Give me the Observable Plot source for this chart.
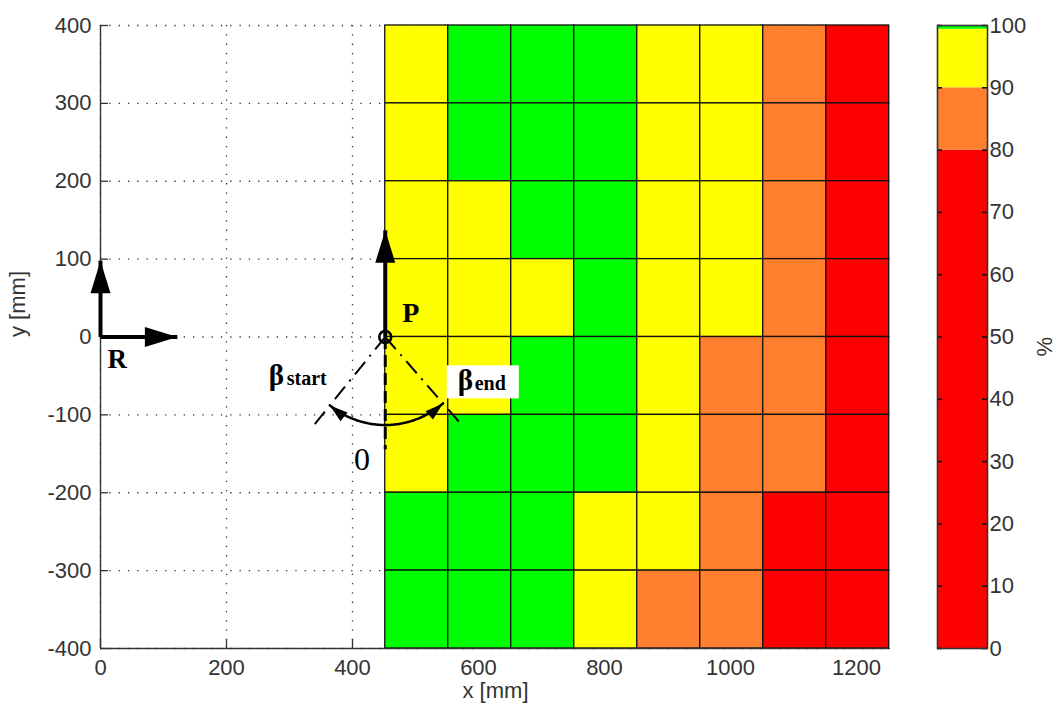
<!DOCTYPE html>
<html><head><meta charset="utf-8">
<script src="https://cdn.jsdelivr.net/npm/d3@7"></script>
<script src="https://cdn.jsdelivr.net/npm/@observablehq/plot@0.6"></script>
<style>
html,body{margin:0;padding:0;background:#fff;}
#wrap{display:flex;width:1058px;height:711px;background:#fff;}
</style></head><body><div id="wrap"></div>
<script>
// ---- data ----
const xTicks = [0, 200, 400, 600, 800, 1000, 1200];
const yTicks = [-400, -300, -200, -100, 0, 100, 200, 300, 400];
const colorbarTicks = [0, 10, 20, 30, 40, 50, 60, 70, 80, 90, 100];
const colEdges = [452, 552, 652, 752, 852, 952, 1052, 1152, 1252];   // x [mm]
const rowEdges = [400, 300, 200, 100, 0, -100, -200, -300, -400];    // y [mm]
// percentages per row (top row first), left to right
const row300 = [95, 100, 100, 100, 95, 95, 85, 65];
const row200 = [95, 100, 100, 100, 95, 95, 85, 65];
const row100 = [95, 95, 100, 100, 95, 95, 85, 65];
const row0 = [95, 95, 95, 100, 95, 95, 85, 65];
const rowM100 = [95, 95, 100, 100, 95, 85, 85, 65];
const rowM200 = [95, 100, 100, 100, 95, 85, 85, 65];
const rowM300 = [100, 100, 100, 95, 95, 85, 65, 65];
const rowM400 = [100, 100, 100, 95, 85, 85, 65, 65];
const rows = [row300, row200, row100, row0, rowM100, rowM200, rowM300, rowM400];
const levels = [80, 90, 99.4];
const levelColors = ["#ff0000", "#ff7f2e", "#ffff00", "#00ff00"];
const colorbarEdges = [0, 80, 90, 99.4, 100];

// annotation anchors [mm]
const refOrigin = {x: 0, y: 0};
const pointP = {x: 452, y: 0};
const arrowShafts = [
  {x1: 0, y1: 0, x2: 0, y2: 98, angle: 0},
  {x1: 0, y1: 0, x2: 122, y2: 0, angle: 90},
  {x1: 452, y1: 0, x2: 452, y2: 137, angle: 0}
];
const zeroLine = [{x1: 452, y1: 0, x2: 452, y2: -144}];
const betaStartDeg = -39, betaEndDeg = 41;
const arcRadiusPx = 88;
const rayLengthsPx = [113, 119];

// ---- layout ----
const W = 930, H = 711, mL = 100, mR = 40, mT = 25, mB = 63;
const plotW = W - mL - mR, plotH = H - mT - mB;
const xDomain = [0, 1254], yDomain = [-400, 400];
const kx = plotW / (xDomain[1] - xDomain[0]);
const ky = plotH / (yDomain[1] - yDomain[0]);
const FS = 22;

const cells = [];
rows.forEach((r, i) => r.forEach((v, j) => cells.push({
  x1: colEdges[j], x2: colEdges[j + 1], y1: rowEdges[i + 1], y2: rowEdges[i], value: v
})));

// arc & rays (circular in pixel space around P)
const toData = (deg, px) => ({
  x: pointP.x + px * Math.sin(deg * Math.PI / 180) / kx,
  y: pointP.y - px * Math.cos(deg * Math.PI / 180) / ky
});
const arcPts = d3.range(betaStartDeg, betaEndDeg + 0.01, 1).map(d => toData(d, arcRadiusPx));
const rays = [betaStartDeg, betaEndDeg].map((d, i) => {
  const e = toData(d, rayLengthsPx[i]);
  return {x1: pointP.x, y1: pointP.y, x2: e.x, y2: e.y};
});
const t0 = betaStartDeg * Math.PI / 180, t1 = betaEndDeg * Math.PI / 180;
const arcEnds = [
  {...toData(betaStartDeg, arcRadiusPx), angle: Math.atan2(-Math.cos(t0), -Math.sin(t0)) * 180 / Math.PI},
  {...toData(betaEndDeg, arcRadiusPx), angle: Math.atan2(Math.cos(t1), Math.sin(t1)) * 180 / Math.PI}
];

const arrowHead = {
  draw(ctx, size) {
    const r = Math.sqrt(size / Math.PI);
    const L = r * 2.6, Wd = r * 1.6;
    ctx.moveTo(0, 0);
    ctx.lineTo(Wd / 2, L);
    ctx.lineTo(-Wd / 2, L);
    ctx.closePath();
  }
};

const colorScale = {type: "threshold", domain: levels, range: levelColors};
const serif = "Liberation Serif";
const plain = d => String(d);
const betaEndTag = () => "beta-end";

const main = Plot.plot({
  width: W, height: H, marginLeft: mL, marginRight: mR, marginTop: mT, marginBottom: mB,
  x: {domain: xDomain},
  y: {domain: yDomain},
  color: colorScale,
  style: {fontFamily: "Liberation Sans", fontSize: FS + "px", color: "#333", background: "white", overflow: "visible"},
  marks: [
    Plot.ruleX(xTicks, {stroke: "#333", strokeDasharray: "1.3,8", strokeWidth: 1.3}),
    Plot.ruleY(yTicks, {stroke: "#333", strokeDasharray: "1.3,8", strokeWidth: 1.3}),
    Plot.tickY(yTicks, {y: d => d, insetRight: plotW - 8, stroke: "#333", strokeWidth: 1.3}),
    Plot.tickX(xTicks, {x: d => d, insetTop: plotH - 9, stroke: "#333", strokeWidth: 1.3}),
    Plot.rect(cells, {x1: "x1", x2: "x2", y1: "y1", y2: "y2", fill: "value", stroke: "#111", strokeWidth: 1.3}),
    Plot.ruleX([0], {stroke: "#333", strokeWidth: 1.4}),
    Plot.ruleY([-400], {stroke: "#333", strokeWidth: 1.4}),
    Plot.axisX(xTicks, {tickSize: 0, tickPadding: 11, fontSize: FS, label: null, tickFormat: plain}),
    Plot.axisY(yTicks, {tickSize: 0, tickPadding: 9, fontSize: FS, label: null, tickFormat: plain}),
    Plot.text(["x [mm]"], {frameAnchor: "bottom", dy: 49, fontSize: FS, fill: "#333"}),
    Plot.text(["y [mm]"], {frameAnchor: "left", dx: -83, rotate: -90, fontSize: FS, fill: "#333"}),
    // annotations
    Plot.link(rays, {x1: "x1", y1: "y1", x2: "x2", y2: "y2", stroke: "black", strokeWidth: 2, strokeDasharray: "16,7,2,7"}),
    Plot.link(zeroLine, {x1: "x1", y1: "y1", x2: "x2", y2: "y2", stroke: "black", strokeWidth: 3, strokeDasharray: "12,6"}),
    Plot.line(arcPts, {x: "x", y: "y", stroke: "black", strokeWidth: 2.5}),
    Plot.dot(arcEnds, {x: "x", y: "y", rotate: "angle", symbol: arrowHead, r: 7, fill: "black", stroke: "none"}),
    Plot.link(arrowShafts, {x1: "x1", y1: "y1", x2: "x2", y2: "y2", stroke: "black", strokeWidth: 4}),
    Plot.dot(arrowShafts, {x: "x2", y: "y2", rotate: "angle", symbol: arrowHead, r: 12.5, fill: "black", stroke: "none"}),
    Plot.dot([pointP], {x: "x", y: "y", r: 6, stroke: "black", strokeWidth: 2.5, fill: "none"}),
    Plot.text(["R"], {x: refOrigin.x + 11, y: refOrigin.y - 40, textAnchor: "start", lineAnchor: "bottom", fontFamily: serif, fontWeight: "bold", fontSize: 27, fill: "black"}),
    Plot.text(["P"], {x: pointP.x + 27, y: pointP.y + 19, textAnchor: "start", lineAnchor: "bottom", fontFamily: serif, fontWeight: "bold", fontSize: 28, fill: "black"}),
    Plot.text(["0"], {x: pointP.x - 37, y: pointP.y - 171, textAnchor: "middle", lineAnchor: "bottom", fontFamily: serif, fontSize: 32, fill: "black"}),
    Plot.text(["β"], {x: 267, y: -62, textAnchor: "start", lineAnchor: "bottom", fontFamily: serif, fontWeight: "bold", fontSize: 29, fill: "black"}),
    Plot.text(["start"], {x: 267, y: -62, dx: 18, textAnchor: "start", lineAnchor: "bottom", fontFamily: serif, fontWeight: "bold", fontSize: 20, fill: "black"}),
    Plot.text(["β"], {x: 567, y: -68.5, textAnchor: "start", lineAnchor: "bottom", fontFamily: serif, fontWeight: "bold", fontSize: 29, fill: "black", ariaLabel: betaEndTag}),
    Plot.text(["end"], {x: 567, y: -68.5, dx: 17, textAnchor: "start", lineAnchor: "bottom", fontFamily: serif, fontWeight: "bold", fontSize: 20, fill: "black", ariaLabel: betaEndTag})
  ]
});

const bands = colorbarEdges.slice(0, -1).map((lo, i) => ({lo, hi: colorbarEdges[i + 1]}));
const cb = Plot.plot({
  width: 128, height: H, marginLeft: 7, marginRight: 71, marginTop: mT, marginBottom: mB,
  y: {domain: [0, 100]},
  color: colorScale,
  style: {fontFamily: "Liberation Sans", fontSize: FS + "px", color: "#333", background: "white", overflow: "visible"},
  marks: [
    Plot.rect(bands, {y1: "lo", y2: "hi", fill: "lo"}),
    Plot.tickY(colorbarTicks, {y: d => d, insetRight: 45, stroke: "#111", strokeWidth: 1.6}),
    Plot.tickY(colorbarTicks, {y: d => d, insetLeft: 45, stroke: "#111", strokeWidth: 1.6}),
    Plot.frame({stroke: "#333", strokeWidth: 1.6}),
    Plot.axisY(colorbarTicks, {anchor: "right", tickSize: 0, tickPadding: 2, label: null, fontSize: FS, tickFormat: plain}),
    Plot.text(["%"], {frameAnchor: "right", dx: 57, rotate: -90, fontSize: FS, fill: "#333"})
  ]
});

const wrap = document.getElementById("wrap");
wrap.appendChild(main);
wrap.appendChild(cb);

// white box behind the beta-end label
(function () {
  let texts = Array.from(main.querySelectorAll('text[aria-label="beta-end"]'));
  if (!texts.length) {
    const all = Array.from(main.querySelectorAll("text"));
    const endT = all.find(t => t.textContent === "end");
    if (endT) {
      const betas = all.filter(t => t.textContent === "β");
      texts = [endT, betas[betas.length - 1]].filter(Boolean);
    }
  }
  if (!texts.length) return;
  const sr = main.getBoundingClientRect();
  let x0 = Infinity, y0 = Infinity, x1 = -Infinity, y1 = -Infinity;
  texts.forEach(t => {
    const b = t.getBoundingClientRect();
    x0 = Math.min(x0, b.left); y0 = Math.min(y0, b.top);
    x1 = Math.max(x1, b.right); y1 = Math.max(y1, b.bottom);
  });
  const rect = document.createElementNS("http://www.w3.org/2000/svg", "rect");
  rect.setAttribute("x", x0 - sr.left - 11);
  rect.setAttribute("y", y0 - sr.top + 1);
  rect.setAttribute("width", x1 - x0 + 24);
  rect.setAttribute("height", y1 - y0 + 1);
  rect.setAttribute("fill", "white");
  let g = texts[0].parentNode;
  while (g.parentNode && g.parentNode !== main) g = g.parentNode;
  texts.forEach(t => {
    let gg = t.parentNode;
    while (gg.parentNode && gg.parentNode !== main) gg = gg.parentNode;
    if (Array.prototype.indexOf.call(main.children, gg) < Array.prototype.indexOf.call(main.children, g)) g = gg;
  });
  main.insertBefore(rect, g);
})();
</script></body></html>
